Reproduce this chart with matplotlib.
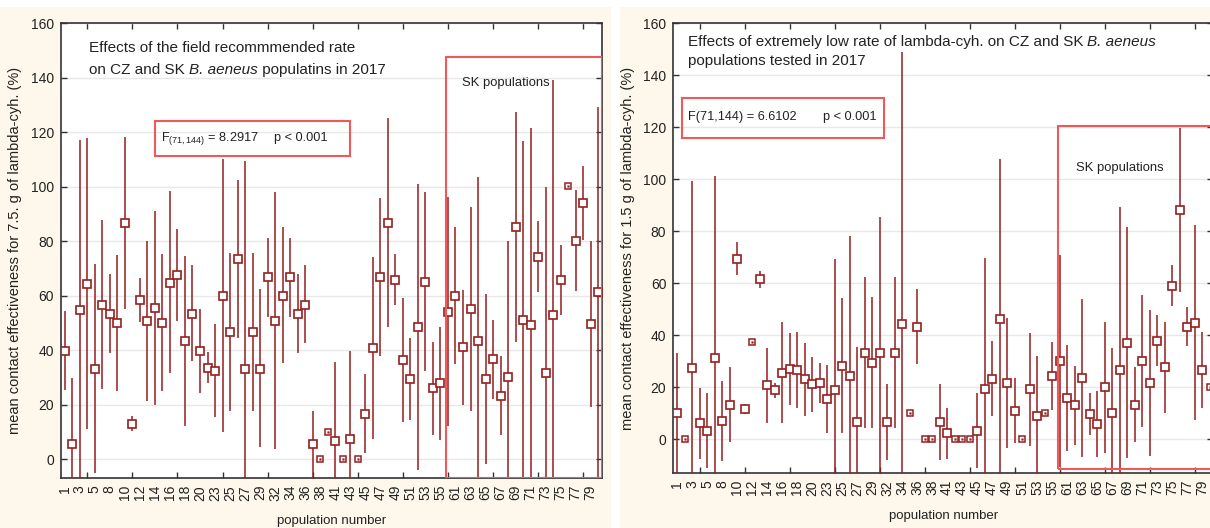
import matplotlib
matplotlib.use('Agg')
import matplotlib.pyplot as plt
from matplotlib.patches import Rectangle
import numpy as np

plt.rcParams['font.family'] = ['Liberation Sans', 'DejaVu Sans']
plt.rcParams['mathtext.fontset'] = 'custom'
plt.rcParams['mathtext.rm'] = 'Liberation Sans'
plt.rcParams['mathtext.it'] = 'Liberation Sans:italic'

# ---------------- data ----------------
populations = [1, 2, 3, 4, 5, 7, 8, 9, 10, 11, 12, 13, 14, 15, 16, 17, 18, 19, 20, 21,
               23, 24, 25, 26, 27, 28, 29, 30, 32, 33, 34, 35, 36, 37, 38, 39,
               41, 42, 43, 44, 45, 46, 47, 48, 49, 50, 51, 52, 53, 54, 55, 56,
               61, 62, 63, 64, 65, 66, 67, 68, 69, 70, 71, 72, 73, 74, 75, 76, 77, 78, 79, 80]

# Panel A: 7.5 g rate
mean_75 = [39.9, 5.5, 54.8, 64.3, 33.3, 56.6, 53.3, 49.9, 86.6, 13.1,
           58.3, 50.8, 55.5, 49.9, 64.8, 67.6, 43.3, 53.5, 39.6, 33.5,
           32.5, 59.9, 46.6, 73.4, 33.3, 46.6, 33.3, 66.8, 50.9, 59.9,
           66.8, 53.3, 56.6, 5.5, 0.0, 10.0, 6.7, 0.0, 7.3, 0.0,
           16.8, 40.7, 66.8, 86.7, 65.8, 36.3, 29.5, 48.4, 65.2, 26.2,
           27.9, 54.2, 60.1, 41.1, 55.2, 43.5, 29.5, 36.7, 23.4, 30.1,
           85.1, 51.1, 49.3, 74.4, 31.6, 53.1, 65.7, 100.2, 80.2, 93.9,
           49.7, 61.4]
upper_75 = [54.6, 29.7, 117.2, 118.0, 71.6, 87.8, 67.9, 75.1, 118.4, 15.9,
            66.5, 80.1, 91.0, 75.2, 98.5, 84.6, 74.5, 71.2, 55.0, 39.3,
            49.8, 110.1, 75.7, 102.5, 109.6, 75.7, 62.4, 81.3, 98.2, 85.1,
            81.3, 67.9, 71.4, 17.9, 0.0, 10.0, 35.6, 0.0, 39.8, 0.0,
            31.3, 74.1, 95.8, 125.1, 75.2, 59.3, 44.6, 101.2, 98.1, 43.2,
            48.7, 96.1, 85.1, 62.3, 92.7, 103.7, 60.8, 51.3, 37.9, 80.0,
            127.6, 116.8, 121.5, 87.6, 99.9, 139.1, 78.5, 100.2, 98.8, 107.8,
            80.0, 129.4]
lower_75 = [25.4, -18.7, -7.6, 11.0, -4.9, 25.8, 38.9, 25.2, 55.0, 10.4,
            50.4, 21.3, 20.1, 25.2, 31.6, 50.8, 12.2, 36.1, 24.2, 27.9,
            15.4, 10.2, 17.9, 44.4, -43.0, 17.9, 4.5, 52.4, 3.9, 35.2,
            52.4, 38.9, 42.6, -7.0, 0.0, 10.0, -22.2, 0.0, -25.2, 0.0,
            2.2, 7.5, 37.9, 48.7, 56.6, 13.7, 14.4, -3.9, 32.4, 8.9,
            7.1, 12.4, 35.0, 19.9, 17.9, -16.7, -1.7, 22.3, 8.9, -19.8,
            43.1, -14.6, -22.9, 61.3, -36.7, -32.9, 52.8, 100.2, 61.7, 80.5,
            19.3, -7.0]

# Panel B: 1.5 g rate
mean_15 = [10.3, 0.0, 27.4, 6.2, 3.3, 31.4, 7.1, 13.3, 69.5, 11.5,
           37.6, 61.5, 20.8, 19.0, 25.6, 27.2, 26.7, 23.1, 21.2, 21.8,
           15.5, 19.0, 28.3, 24.5, 6.7, 33.3, 29.5, 33.3, 6.7, 33.3,
           44.4, 10.0, 43.3, 0.0, 0.0, 6.7, 2.3, 0.0, 0.0, 0.0,
           3.3, 19.4, 23.3, 46.3, 21.5, 10.9, 0.0, 19.2, 9.1, 10.0,
           24.4, 30.1, 15.9, 13.1, 23.6, 9.9, 5.8, 20.0, 10.0, 26.7,
           37.2, 13.2, 30.0, 21.5, 37.8, 27.8, 59.1, 88.1, 43.3, 44.9,
           26.7, 20.0]
upper_15 = [33.1, 0.0, 99.2, 19.9, 17.9, 101.3, 22.6, 27.9, 75.8, 13.5,
            37.6, 64.9, 35.3, 21.5, 45.1, 41.0, 41.3, 37.2, 31.7, 29.2,
            28.5, 69.2, 54.5, 78.2, 35.6, 62.4, 54.9, 85.4, 21.3, 62.4,
            149.1, 10.0, 57.9, 0.0, 0.0, 21.3, 12.1, 0.0, 0.0, 0.0,
            17.9, 69.6, 37.9, 107.7, 46.5, 23.7, 0.0, 41.0, 31.9, 10.0,
            37.6, 70.8, 36.3, 28.3, 54.0, 17.7, 18.6, 45.3, 35.1, 89.5,
            81.8, 27.9, 55.4, 49.7, 47.8, 45.3, 67.1, 119.6, 50.8, 82.4,
            41.3, 20.0]
lower_15 = [-13.0, 0.0, -44.4, -7.6, -11.2, -38.5, -8.5, -1.2, 63.1, 9.6,
            37.6, 58.2, 6.4, 16.0, 6.4, 13.3, 12.1, 9.0, 10.5, 14.1,
            2.6, -31.2, 2.3, -29.2, -22.2, 4.5, 4.5, -18.8, -7.9, 4.5,
            -60.3, 10.0, 29.0, 0.0, 0.0, -7.9, -7.6, 0.0, 0.0, 0.0,
            -11.2, -30.8, 9.0, -15.1, -3.5, -1.5, 0.0, -2.4, -13.7, 10.0,
            11.2, -10.5, -4.4, -2.2, -6.7, 1.7, -6.9, -5.1, -15.1, -36.1,
            -7.3, -1.2, 4.9, -6.4, 28.2, 10.3, 51.3, 56.5, 35.9, 7.4,
            12.1, 20.0]

y_ticks = [0, 20, 40, 60, 80, 100, 120, 140, 160]

# ---------------- styling ----------------
W, H = 1210, 528
DARK = '#951f1f'
BOXRED = '#ee5a5a'
CREAM = '#fdf8eb'
TXT = '#222222'

fig = plt.figure(figsize=(W / 100, H / 100), dpi=100)
fig.patch.set_facecolor('white')
fig.patches.append(Rectangle((0, 0), 611.5 / W, (H - 7) / H, transform=fig.transFigure,
                             facecolor=CREAM, edgecolor='none', zorder=-10))
fig.patches.append(Rectangle((620 / W, 0), 1 - 620 / W, (H - 7) / H, transform=fig.transFigure,
                             facecolor=CREAM, edgecolor='none', zorder=-10))


def panel(rect, means, upper, lower, ylim, ylabel, sk_box, sk_text):
    ax = fig.add_axes(rect)
    ax.set_facecolor('white')
    x = np.arange(len(populations))
    means = np.array(means); upper = np.array(upper); lower = np.array(lower)
    has_err = upper > lower
    ax.vlines(x[has_err], lower[has_err], upper[has_err], color=DARK, lw=1.3, alpha=0.85, zorder=3)
    ax.plot(x[has_err], means[has_err], 's', ms=6.0, mfc='white', mec=DARK, mew=1.2, zorder=4, ls='none')
    ax.plot(x[~has_err], means[~has_err], 's', ms=4.2, mfc='white', mec=DARK, mew=1.1, zorder=4, ls='none')
    ax.plot(x[~has_err], means[~has_err], 's', ms=1.2, mfc=DARK, mec=DARK, mew=0.3, zorder=5, ls='none')

    ax.set_xlim(-0.5, len(populations) - 0.5)
    ax.set_ylim(*ylim)
    ax.set_yticks(y_ticks)
    ax.yaxis.grid(True, color='#e8e8e8', lw=1.0)
    ax.set_axisbelow(True)
    ax.tick_params(axis='y', direction='in', right=True, length=4, width=1,
                   labelsize=10, colors='#333333', labelcolor=TXT, pad=5)
    ax.set_xticks(x[::2])
    ax.set_xticklabels([str(p) for p in populations[::2]], rotation=90)
    ax.set_xticks(np.arange(0, len(populations), 3), minor=True)
    ax.tick_params(axis='x', which='major', length=0, labelsize=10, labelcolor=TXT, pad=5)
    ax.tick_params(axis='x', which='minor', direction='in', top=True, bottom=True, length=4,
                   width=1, colors='#333333')
    for s in ax.spines.values():
        s.set_color('#333333')
        s.set_linewidth(1.2)
    ax.set_ylabel(ylabel, fontsize=10.5, color=TXT, labelpad=6)
    ax.set_xlabel('population number', fontsize=9.5, color=TXT, labelpad=10.5)
    bx0, by0, bx1, by1 = sk_box
    ax.add_patch(Rectangle((bx0, by0), bx1 - bx0, by1 - by0, fill=False,
                           edgecolor=BOXRED, lw=1.5, zorder=6, clip_on=True))
    ax.text(sk_text[0], sk_text[1], 'SK populations', fontsize=9.4, color=TXT,
            ha='center', va='center', zorder=7)
    return ax


def mixed_line(ax, x, y, parts, fontsize=11):
    """Draw a line of text made of (string, style) pieces placed one after another."""
    t = ax.text(x, y, parts[0][0], fontsize=fontsize, color=TXT, va='baseline',
                style=parts[0][1])
    for s, st in parts[1:]:
        t = ax.annotate(s, xy=(1, 0), xycoords=t, va='bottom', ha='left',
                        fontsize=fontsize, color=TXT, style=st)
    return t


ax1 = panel([61 / W, 1 - 478 / H, 541 / W, (478 - 23.3) / H], mean_75, upper_75, lower_75,
            (-6.86, 160), 'mean contact effectiveness for 7.5. g of lambda-cyh. (%)',
            (50.8, -6.86, 71.5, 147.5), (58.7, 138.2))
ax1.text(3.2, 151, 'Effects of the field recommmended rate', fontsize=11, color=TXT, va='center')
mixed_line(ax1, 3.2, 141.5, [('on CZ and SK ', 'normal'), ('B. aeneus', 'italic'),
                             (' populatins in 2017', 'normal')])
ax1.add_patch(Rectangle((12, 111.3), 25.9, 13.0, fill=False, edgecolor=BOXRED, lw=1.5, zorder=6))
ax1.text(12.8, 117.8, r'F$_{\mathrm{(71,144)}}$ = 8.2917', fontsize=9.2, color=TXT, va='center')
ax1.text(27.9, 117.8, 'p < 0.001', fontsize=9.2, color=TXT, va='center')

ax2 = panel([673.3 / W, 1 - 473 / H, 540 / W, (473 - 23.3) / H], mean_15, upper_15, lower_15,
            (-12.96, 160), 'mean contact effectiveness for 1.5 g of lambda-cyh. (%)',
            (50.8, -11.5, 75.0, 120.6), (59.1, 104.5))
mixed_line(ax2, 1.4, 151.3, [('Effects of extremely low rate of lambda-cyh. on CZ and SK ', 'normal'),
                             ('B. aeneus', 'italic')])
ax2.text(1.4, 145.6, 'populations tested in 2017', fontsize=11, color=TXT, va='center')
ax2.add_patch(Rectangle((0.63, 116.0), 27.0, 15.4, fill=False, edgecolor=BOXRED, lw=1.5, zorder=6))
ax2.text(1.47, 124.1, 'F(71,144) = 6.6102', fontsize=9.2, color=TXT, va='center')
ax2.text(19.4, 124.1, 'p < 0.001', fontsize=9.2, color=TXT, va='center')

fig.savefig('out.png', dpi=100, facecolor=fig.get_facecolor())
